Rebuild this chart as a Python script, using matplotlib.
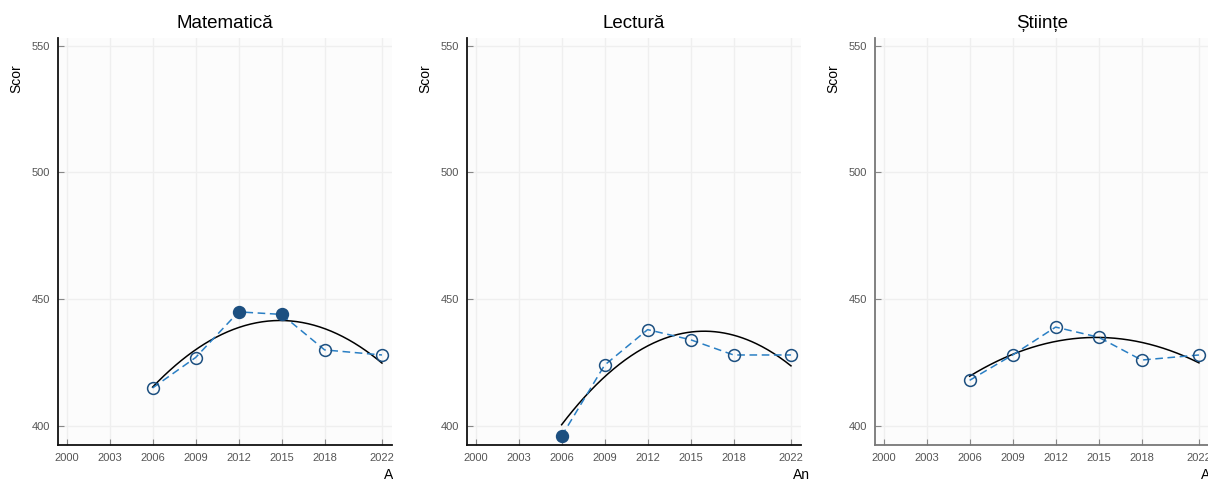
import numpy as np
import matplotlib
matplotlib.use("Agg")
import matplotlib.pyplot as plt
from matplotlib.transforms import Bbox

plt.rcParams['font.family'] = ['Liberation Sans', 'DejaVu Sans']

years = [2006, 2009, 2012, 2015, 2018, 2022]
subjects = ["Matematică", "Lectură", "Științe"]
math_scores = [415, 427, 445, 444, 430, 428]
reading_scores = [396, 424, 438, 434, 428, 428]
science_scores = [418, 428, 439, 435, 426, 428]
# years drawn with a filled marker
highlighted = [[2012, 2015], [2006], []]
x_ticks = [2000, 2003, 2006, 2009, 2012, 2015, 2018, 2022]
y_ticks = [400, 450, 500, 550]

scores = [math_scores, reading_scores, science_scores]
spine_colors = ["#111111", "#111111", "#777777"]
lefts = [58, 467, 875]

W, H = 1208, 480
fig = plt.figure(figsize=(W / 100, H / 100), dpi=100)

for i, (name, vals) in enumerate(zip(subjects, scores)):
    ax = fig.add_axes([lefts[i] / W, 35 / H, 334 / W, 407 / H])
    ax.set_facecolor("#fcfcfc")
    ax.set_xlim(1999.4, 2022.7)
    ax.set_ylim(392.5, 553)
    ax.set_xticks(x_ticks)
    ax.set_yticks(y_ticks)
    ax.grid(True, color="#efefef", linewidth=1)
    ax.set_axisbelow(True)
    for s in ["top", "right"]:
        ax.spines[s].set_visible(False)
    for s in ["left", "bottom"]:
        ax.spines[s].set_color(spine_colors[i])
        ax.spines[s].set_linewidth(1.3)
    ax.tick_params(direction="in", length=4, color="#888888", labelsize=8,
                   labelcolor="#555555", pad=6)

    # quadratic trend
    coef = np.polyfit(years, vals, 2)
    xs = np.linspace(years[0], years[-1], 200)
    ax.plot(xs, np.polyval(coef, xs), color="black", linewidth=1.1, zorder=3)

    ax.plot(years, vals, linestyle=(0, (5, 3)), color="#2a7fc4", linewidth=1.1, zorder=4)
    for yr, v in zip(years, vals):
        filled = yr in highlighted[i]
        ax.plot(yr, v, marker="o", markersize=8.5, markeredgewidth=1.1,
                markeredgecolor="#1c4f80",
                markerfacecolor="#1c4f80" if filled else "none", zorder=5)

    ax.set_title(name, fontsize=13.5, pad=7)
    ax.set_ylabel("Scor", fontsize=10)
    ax.yaxis.set_label_coords(-0.105, 0.9)
    t = ax.text(1.0, -0.056, "An", transform=ax.transAxes, ha="center", va="top",
                fontsize=10)
    if i == 0:
        t.set_clip_box(Bbox.from_extents(0, 0, 393, H))
        t.set_clip_on(True)
    else:
        t.set_clip_on(False)

fig.savefig("out.png", dpi=100)
